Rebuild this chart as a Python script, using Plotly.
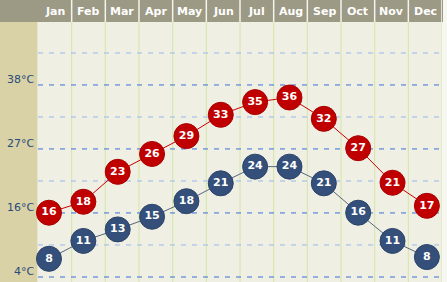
import plotly.graph_objects as go

months = ["Jan", "Feb", "Mar", "Apr", "May", "Jun", "Jul", "Aug", "Sep", "Oct", "Nov", "Dec"]
high_c = [15.6, 17.5, 22.7, 25.8, 28.9, 32.6, 34.8, 35.6, 31.9, 26.8, 20.8, 16.8]
low_c = [7.6, 10.7, 12.7, 14.9, 17.6, 20.7, 23.6, 23.6, 20.7, 15.6, 10.7, 7.9]
high_lbl = [16, 18, 23, 26, 29, 33, 35, 36, 32, 27, 21, 17]
low_lbl = [8, 11, 13, 15, 18, 21, 24, 24, 21, 16, 11, 8]
major_vals = [4.44, 15.56, 26.67, 37.78]
major_lbls = ["4°C", "16°C", "27°C", "38°C"]
minor_vals = [10.0, 21.11, 32.22, 43.33]

W, H = 447, 282
x0p, x1p = 38 / W, 442 / W
ytop = 260 / H

fig = go.Figure()
xs = list(range(12))
fig.add_trace(go.Scatter(
    x=xs, y=low_c, mode="lines+markers+text", text=[str(v) for v in low_lbl],
    textposition="middle center",
    textfont=dict(color="white", size=11, family="DejaVu Sans"),
    line=dict(color="#56667e", width=1),
    marker=dict(size=25, color="#34507a", line=dict(color="#2c4468", width=1)),
    cliponaxis=False, hoverinfo="skip"))
fig.add_trace(go.Scatter(
    x=xs, y=high_c, mode="lines+markers+text", text=[str(v) for v in high_lbl],
    textposition="middle center",
    textfont=dict(color="white", size=11, family="DejaVu Sans"),
    line=dict(color="#cc0000", width=1),
    marker=dict(size=25, color="#c00000", line=dict(color="#a80000", width=1)),
    cliponaxis=False, hoverinfo="skip"))
for tr in fig.data:
    tr.texttemplate = "<b>%{text}</b>"

shapes = []
shapes.append(dict(type="rect", xref="paper", yref="paper", x0=0, x1=443 / W, y0=ytop, y1=1,
                   fillcolor="#9c9984", line=dict(width=0), layer="below"))
shapes.append(dict(type="rect", xref="paper", yref="paper", x0=0, x1=37.5 / W, y0=0, y1=ytop,
                   fillcolor="#d9d2a6", line=dict(width=0), layer="below"))
for i in range(12):
    shapes.append(dict(type="line", xref="x2", yref="paper", x0=i + 0.5, x1=i + 0.5, y0=0, y1=ytop,
                       line=dict(color="#d4e6a6", width=1), layer="below"))
    shapes.append(dict(type="line", xref="x2", yref="paper", x0=i + 0.5, x1=i + 0.5, y0=ytop, y1=1,
                       line=dict(color="#f4f4ee", width=1.5), layer="above"))
for v in minor_vals:
    shapes.append(dict(type="line", xref="paper", yref="y", x0=x0p, x1=x1p, y0=v, y1=v,
                       line=dict(color="#9ab8ee", width=1, dash="5px,6px"), layer="below"))
for v in major_vals:
    shapes.append(dict(type="line", xref="paper", yref="y", x0=x0p, x1=x1p, y0=v, y1=v,
                       line=dict(color="#3a70d8", width=1, dash="5px,6px"), layer="below"))

annotations = []
for i, m in enumerate(months):
    annotations.append(dict(xref="x2", yref="paper", x=i, y=(H - 11) / H, text="<b>" + m + "</b>",
                            showarrow=False, font=dict(color="white", size=11, family="DejaVu Sans"),
                            xanchor="center", yanchor="middle"))
for v, t in zip(major_vals, major_lbls):
    annotations.append(dict(xref="paper", yref="y", x=36 / W, y=v, text=t, showarrow=False,
                            xanchor="right", yanchor="middle", yshift=5,
                            font=dict(color="#2a4a7c", size=11, family="DejaVu Sans")))

fig.update_layout(
    width=W, height=H, margin=dict(l=0, r=0, t=0, b=0),
    paper_bgcolor="#f7f7f2", plot_bgcolor="#efefe4",
    showlegend=False, shapes=shapes, annotations=annotations,
    xaxis=dict(domain=[x0p, x1p], range=[-0.32, 11.44], visible=False, fixedrange=True),
    xaxis2=dict(domain=[x0p, x1p], range=[-0.5, 11.5], overlaying="x", visible=False),
    yaxis=dict(domain=[0, ytop], range=[3.57, 48.71], visible=False, showgrid=False, zeroline=False),
)
fig.write_html("out.html")
